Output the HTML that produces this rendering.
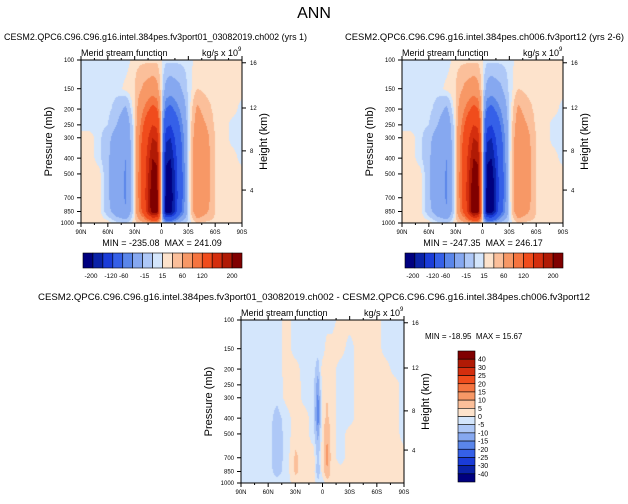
<!DOCTYPE html>
<html><head><meta charset="utf-8">
<style>
html,body{margin:0;padding:0;background:#fff;}
body{width:628px;height:504px;position:relative;overflow:hidden;font-family:"Liberation Sans",sans-serif;}
canvas{position:absolute;}
svg{position:absolute;left:0;top:0;}
text{white-space:pre;}
</style></head>
<body>
<canvas id="c1" width="161" height="163" style="left:81px;top:60px"></canvas>
<canvas id="c2" width="161" height="163" style="left:402px;top:60px"></canvas>
<canvas id="c3" width="163" height="163" style="left:241px;top:320px"></canvas>
<svg id="ov" width="628" height="504"></svg>
<script>
const lats=[90,80,70,60,50,40,30,20,10,5,0,-5,-10,-20,-30,-40,-50,-60,-70,-80,-90];
const plevs=[100,150,200,250,300,400,500,700,850,1000];
const panel1Rows=[
[-3,-3,-3,-3,-3,-3,3,3,3,3,0,-3,-3,-3,-3,3,3,3,3,3,3],
[-3,-3,-3,-3,-3,2,5,18,25,20,0,-20,-25,-18,-3,5,3,3,3,3,3],
[-3,-3,-3,-3,-8,-18,5,40,70,60,0,-60,-70,-40,-5,18,8,3,3,3,-3],
[-3,-3,-3,-5,-15,-30,3,60,120,110,0,-110,-120,-60,-5,25,15,3,3,-3,-3],
[3,3,-3,-10,-25,-35,3,75,160,150,0,-150,-160,-75,-5,30,20,5,3,-3,-3],
[3,3,-3,-12,-30,-40,3,85,200,190,0,-190,-200,-85,-5,35,22,5,3,3,-3],
[3,3,3,-12,-30,-42,3,90,220,210,0,-210,-225,-90,-5,35,22,5,3,3,3],
[3,3,3,-12,-30,-42,3,90,240,230,0,-225,-235,-90,-5,35,22,5,3,3,3],
[3,3,3,-10,-25,-38,3,75,235,225,0,-225,-230,-80,-5,30,18,5,3,3,3],
[3,3,3,3,-3,-5,3,8,20,18,0,-18,-20,-8,-3,5,3,3,3,3,3]];
const panel2Rows=[
[-3,-3,-3,-3,-3,-3,3,3,3,3,0,-3,-3,-3,-3,3,3,3,3,3,3],
[-3,-3,-3,-3,-3,2,5,18,25,20,0,-20,-25,-18,-3,5,3,3,3,3,3],
[-3,-3,-3,-3,-8,-18,5,40,70,60,0,-60,-70,-40,-5,18,8,3,3,3,-3],
[-3,-3,-3,-5,-15,-30,3,60,120,110,0,-110,-120,-60,-5,25,15,3,3,-3,-3],
[3,3,-3,-10,-25,-35,3,75,160,150,0,-150,-160,-75,-5,30,20,5,3,-3,-3],
[3,3,-3,-12,-30,-40,3,85,200,190,0,-190,-200,-85,-5,35,22,5,3,3,-3],
[3,3,3,-12,-30,-42,3,90,225,215,0,-215,-230,-90,-5,35,22,5,3,3,3],
[3,3,3,-12,-30,-42,3,90,246,232,0,-230,-247,-90,-5,35,22,5,3,3,3],
[3,3,3,-10,-25,-38,3,75,238,228,0,-228,-235,-80,-5,30,18,5,3,3,3],
[3,3,3,3,-3,-5,3,8,20,18,0,-18,-20,-8,-3,5,3,3,3,3,3]];
const diffRows=[
[-3,-3,-3,-3,-3,3,-3,-3,-3,-3,-3,-3,-3,3,3,3,3,3,-3,-3,-3],
[-3,-3,-3,-3,-3,3,-3,-3,-3,-3,-3,3,3,3,-3,3,3,3,-3,-3,-3],
[-3,-3,-3,-3,-3,3,3,-3,-3,-8,3,3,3,-3,-3,3,3,3,3,-3,-3],
[-3,-3,-3,-3,-4,2,3,-2,-3,-14,3,4,3,-3,-3,3,3,3,3,3,-3],
[-3,-3,-3,-3,-4,2,3,-2,-3,-17,3,5,3,-3,-3,3,3,3,3,3,-3],
[-3,-3,-3,-3,-7,-3,3,3,-3,-20,3,6,3,-3,-3,3,3,3,3,3,-3],
[-3,-3,-3,-3,-8,-3,3,3,-3,-12,3,10,3,-3,3,3,3,3,3,3,-3],
[-3,-3,-3,-3,-8,-3,6,3,3,-8,3,12,3,-3,3,3,3,3,3,3,3],
[-3,-3,-3,-3,-7,-3,6,3,3,-10,3,10,3,3,3,3,3,3,3,3,3],
[-3,-3,-3,-3,-3,-3,3,3,3,-3,-3,3,3,3,3,3,3,3,3,3,3]];
const levels1=[-200,-160,-120,-60,-40,-15,-5,0,5,15,40,60,120,160,200];
const levels3=[-40,-30,-25,-20,-15,-10,-5,0,5,10,15,20,25,30,40];
const cbLabels1=["-200","-120","-60","-15","15","60","120","200"];
const cbLabelIdx1=[0.8,2.8,4.1,6.2,8,10,12,15];
const cbLabels3=["40","30","25","20","15","10","5","0","-5","-10","-15","-20","-25","-30","-40"];
const xTickLats=[90,60,30,0,-30,-60,-90];
const xTickLabels=["90N","60N","30N","0","30S","60S","90S"];
const pTicks=[100,150,200,250,300,400,500,700,850,1000];
const hTickP=[104,197,361,628];
const hTickLabels=["16","12","8","4"];
const colors=["#00007f","#0a22a8","#1a3cd8","#3560e8","#5a86ea","#86a8f0","#aec8f7","#d4e6fc","#fde3cc","#fbbf9a","#f79866","#f5743f","#f04c1c","#d42e0e","#b01a05","#800000"];

function hexRGB(h){return [parseInt(h.substr(1,2),16),parseInt(h.substr(3,2),16),parseInt(h.substr(5,2),16)];}
function levIdx(v,lev){let i=0;while(i<lev.length&&v>=lev[i])i++;return i;}
function sample(rows,lat,p){
  let i=0;while(i<lats.length-2&&lat<lats[i+1])i++;
  let tx=(lats[i]-lat)/(lats[i]-lats[i+1]);
  const lp=Math.log(p);let j=0;while(j<plevs.length-2&&p>plevs[j+1])j++;
  let ty=(lp-Math.log(plevs[j]))/(Math.log(plevs[j+1])-Math.log(plevs[j]));
  tx=Math.max(0,Math.min(1,tx));ty=Math.max(0,Math.min(1,ty));
  const a=rows[j][i],b=rows[j][i+1],c=rows[j+1][i],d=rows[j+1][i+1];
  return (a*(1-tx)+b*tx)*(1-ty)+(c*(1-tx)+d*tx)*ty;
}
function drawField(id,rows,lev){
  const cv=document.getElementById(id),ctx=cv.getContext('2d');
  const W=cv.width,H=cv.height,img=ctx.createImageData(W,H);
  for(let y=0;y<H;y++){const p=100*Math.pow(10,(y+0.5)/H);
    for(let x=0;x<W;x++){const lat=90-180*(x+0.5)/W;
      const c=hexRGB(colors[levIdx(sample(rows,lat,p),lev)]);const k=(y*W+x)*4;
      img.data[k]=c[0];img.data[k+1]=c[1];img.data[k+2]=c[2];img.data[k+3]=255;}}
  ctx.putImageData(img,0,0);
}
drawField('c1',panel1Rows,levels1);
drawField('c2',panel2Rows,levels1);
drawField('c3',diffRows,levels3);

const NS='http://www.w3.org/2000/svg',ov=document.getElementById('ov');
function el(tag,attrs,txt){const e=document.createElementNS(NS,tag);for(const k in attrs)e.setAttribute(k,attrs[k]);if(txt!==undefined)e.textContent=txt;ov.appendChild(e);return e;}
function txt(x,y,s,size,anchor,name,extra){const t=el('text',Object.assign({x:x,y:y,'font-size':size,'text-anchor':anchor||'middle','font-family':'Liberation Sans, sans-serif',fill:'#000'},extra||{}),s);
  
  return t;}

function axes(px,py,w,h,pref){
  const xs=lat=>px+(90-lat)/180*w, ys=p=>py+h*Math.log10(p/100);
  const r=el('rect',{x:px,y:py,width:w,height:h,fill:'none',stroke:'#000','stroke-width':1});
  
  
  for(let l=90;l>=-90;l-=15){const maj=(l%30===0);const L=maj?4:2;
    const t1=el('line',{x1:xs(l),x2:xs(l),y1:py+h,y2:py+h+L,stroke:'#000','stroke-width':1});
    
    
    const t2=el('line',{x1:xs(l),x2:xs(l),y1:py,y2:py-L,stroke:'#000','stroke-width':1});
    
    }
  xTickLats.forEach((l,i)=>txt(xs(l),py+h+11,xTickLabels[i],6,'middle',pref+'-x-tick-label'));
  pTicks.forEach(p=>{const t=el('line',{x1:px-4,x2:px,y1:ys(p),y2:ys(p),stroke:'#000'});
    
    
    txt(px-7,ys(p)+2.2,String(p),6,'end',pref+'-y-tick-label');});
  hTickP.forEach((p,i)=>{const t=el('line',{x1:px+w,x2:px+w+4,y1:ys(p),y2:ys(p),stroke:'#000'});
    
    
    txt(px+w+8,ys(p)+2.2,hTickLabels[i],6,'start',pref+'-height-tick-label');});
  txt(px-29,py+h/2,'Pressure (mb)',11,'middle',pref+'-y-axis-title',{transform:`rotate(-90 ${px-29} ${py+h/2})`});
  txt(px+w+25,py+h/2,'Height (km)',11,'middle',pref+'-height-axis-title',{transform:`rotate(-90 ${px+w+25} ${py+h/2})`});
  txt(px,py-4,'Merid stream function',9,'start',pref+'-subtitle');
  txt(px+w-4,py-4,'kg/s x 10',9,'end',pref+'-units');
  txt(px+w-4,py-9,'9',6,'start',pref+'-units-exp');
}
function hbar(x,y,w,h,pref){
  const bw=w/16;
  colors.forEach((c,i)=>{const r=el('rect',{x:x+i*bw,y:y,width:bw,height:h,fill:c,stroke:'#000','stroke-width':0.6});
    
    });
  cbLabels1.forEach((s,i)=>txt(x+cbLabelIdx1[i]*bw,y+h+10,s,6.5,'middle',pref+'-colorbar-label'));
}
txt(314,18,'ANN',16,'middle','main-title');
txt(4,40,'CESM2.QPC6.C96.C96.g16.intel.384pes.fv3port01_03082019.ch002 (yrs 1)',9,'start','panel1-title',{textLength:303,lengthAdjust:'spacingAndGlyphs'});
txt(345,40,'CESM2.QPC6.C96.C96.g16.intel.384pes.ch006.fv3port12 (yrs 2-6)',9,'start','panel2-title',{textLength:279,lengthAdjust:'spacingAndGlyphs'});
txt(38,300,'CESM2.QPC6.C96.C96.g16.intel.384pes.fv3port01_03082019.ch002 - CESM2.QPC6.C96.C96.g16.intel.384pes.ch006.fv3port12',9,'start','diff-title',{textLength:552,lengthAdjust:'spacingAndGlyphs'});
axes(81,60,161,163,'panel1');
axes(402,60,161,163,'panel2');
axes(241,320,163,163,'diff');
txt(162,246,'MIN = -235.08  MAX = 241.09',9,'middle','panel1-minmax');
txt(483,246,'MIN = -247.35  MAX = 246.17',9,'middle','panel2-minmax');
txt(425,339,'MIN = -18.95  MAX = 15.67',8,'start','diff-minmax');
hbar(83,253,159,15,'panel1');
hbar(405,253,158,15,'panel2');
(function(){const x=458,y=351,w=17,h=131,bh=h/16;
  for(let i=0;i<16;i++){const r=el('rect',{x:x,y:y+i*bh,width:w,height:bh,fill:colors[15-i],stroke:'#000','stroke-width':0.6});
    
    }
  cbLabels3.forEach((s,i)=>txt(x+w+3,y+(i+1)*bh+2.5,s,7,'start','diff-colorbar-label'));
})();
</script>
</body></html>
